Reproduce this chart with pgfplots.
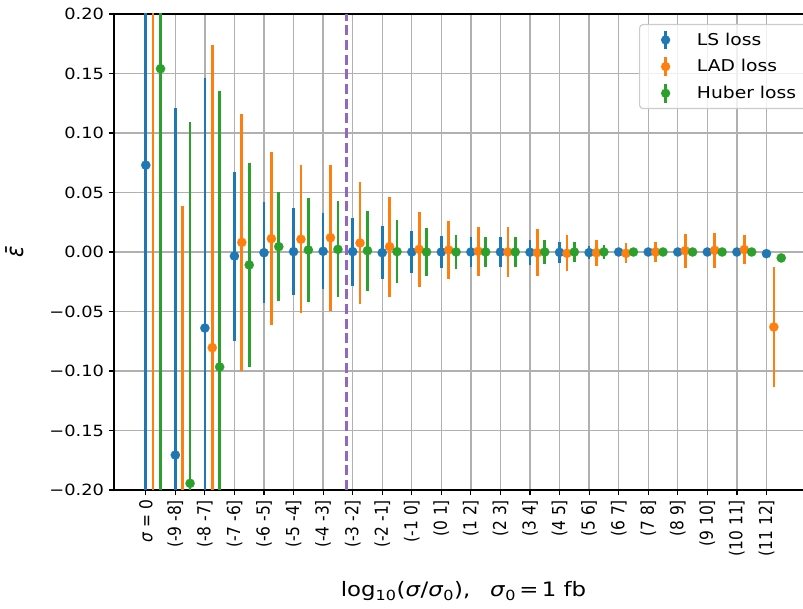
\documentclass[border=0pt]{standalone}
\usepackage{pgfplots}
\usepackage{pgfplotstable}
\pgfplotsset{compat=1.18}
\usepackage{fontspec}
\setmainfont{DejaVu Sans}
\newfontfamily\hf[FakeStretch=1.15]{DejaVu Sans}
\newfontfamily\vf[FakeStretch=0.87]{DejaVu Sans}
\definecolor{c1}{HTML}{1F77B4}
\definecolor{c2}{HTML}{FF7F0E}
\definecolor{c3}{HTML}{2CA02C}
\definecolor{c4}{HTML}{9467BD}
\definecolor{gridc}{HTML}{B0B0B0}
\definecolor{legc}{HTML}{CCCCCC}

% LS loss (x = category index)
\pgfplotstableread{
x y e
0 0.073 0.6
1 -0.1706 0.292
2 -0.0639 0.2104
3 -0.0034 0.071
4 -0.0006 0.0425
5 0.0003 0.0367
6 0.0006 0.032
7 0.0003 0.0285
8 -0.0006 0.0225
9 0.0 0.018
10 0.0 0.0137
11 0.0 0.0126
12 0.0 0.0125
13 -0.0002 0.0105
14 -0.0003 0.0087
15 -0.0005 0.0055
16 0.0 0.002
17 0.0 0.0015
18 0.0 0.0015
19 0.0 0.0012
20 0.0 0.001
21 -0.0014 0.001
}\lsdata

% LAD loss (x = index + 0.25)
\pgfplotstableread{
x y e
0.25 0.3 0.8
1.25 -0.4 0.439
2.25 -0.0804 0.254
3.25 0.0081 0.108
4.25 0.0112 0.0728
5.25 0.0107 0.0622
6.25 0.012 0.0612
7.25 0.0076 0.051
8.25 0.0045 0.042
9.25 0.0022 0.0314
10.25 0.0017 0.0243
11.25 0.0006 0.0205
12.25 0.0 0.021
13.25 -0.0006 0.0197
14.25 -0.0011 0.015
15.25 -0.0006 0.011
16.25 -0.0011 0.0083
17.25 0.0 0.008
18.25 0.0011 0.0143
19.25 0.0014 0.0145
20.25 0.002 0.0123
21.25 -0.063 0.0504
}\laddata

% Huber loss (x = index + 0.5)
\pgfplotstableread{
x y e
0.5 0.154 0.6
1.5 -0.1944 0.304
2.5 -0.0966 0.232
3.5 -0.0109 0.086
4.5 0.0045 0.0456
5.5 0.0017 0.044
6.5 0.0022 0.0403
7.5 0.0011 0.0336
8.5 0.0003 0.0266
9.5 0.0 0.0198
10.5 0.0 0.0145
11.5 0.0 0.0126
12.5 0.0 0.0126
13.5 0.0 0.0103
14.5 0.0 0.008
15.5 0.0 0.0056
16.5 0.0 0.002
17.5 0.0 0.0015
18.5 0.0 0.0015
19.5 0.0 0.0012
20.5 0.0 0.001
21.5 -0.005 0.001
}\huberdata

\begin{document}
\begin{tikzpicture}
\begin{axis}[
  scale only axis,
  width=524.25pt, height=357pt,
  xmin=-1.075, xmax=22.575,
  ymin=-0.2, ymax=0.2,
  xtick={0,1,2,3,4,5,6,7,8,9,10,11,12,13,14,15,16,17,18,19,20,21},
  xticklabels={{{\itshape σ} = 0},{(-9 -8]},{(-8 -7]},{(-7 -6]},{(-6 -5]},{(-5 -4]},{(-4 -3]},{(-3 -2]},{(-2 -1]},{(-1 0]},{(0 1]},{(1 2]},{(2 3]},{(3 4]},{(4 5]},{(5 6]},{(6 7]},{(7 8]},{(8 9]},{(9 10]},{(10 11]},{(11 12]}},
  ytick={-0.2,-0.15,-0.1,-0.05,0,0.05,0.1,0.15,0.2},
  yticklabels={−0.20,−0.15,−0.10,−0.05,0.00,0.05,0.10,0.15,0.20},
  xticklabel style={font=\vf\fontsize{13.35}{15}\selectfont, rotate=90, anchor=east},
  yticklabel style={font=\hf\fontsize{11.6}{13}\selectfont},
  grid=major,
  major grid style={gridc, line width=1pt},
  tick align=outside,
  tick pos=left,
  major tick length=4pt,
  every tick/.style={black, line width=0.9pt},
  axis line style={black, line width=0.9pt},
  clip marker paths=true,
  xlabel={log\textsubscript{10}(\textit{σ}/\textit{σ}\textsubscript{0}),\quad\textit{σ}\textsubscript{0}\,=\,1 fb},
  xlabel style={font=\hf\fontsize{14.9}{17}\selectfont, at={(axis description cs:0.5,-0.2248)}, anchor=base},
  ylabel={\itshape ε̄},
  ylabel style={font=\vf\fontsize{18}{20}\selectfont, at={(axis description cs:-0.1416,0.5)}, anchor=center},
  legend style={
    at={(rel axis cs:0.7511,0.979)}, anchor=north west,
    draw=legc, line width=0.9pt, rounded corners=2.5pt,
    fill=white, fill opacity=0.8, text opacity=1, draw opacity=1,
    inner xsep=0pt, inner ysep=1.5pt, row sep=0pt,
    font=\hf\fontsize{12.2}{14}\selectfont,
    nodes={inner xsep=0pt, inner ysep=0pt},
  },
  legend cell align=left,
]
\coordinate (ll) at (rel axis cs:0,0);
\addplot[only marks, mark=*, mark size=3.5pt, color=c1,
  mark options={fill=c1, draw=c1, line width=0.1pt},
  legend image code/.code={
    \path[draw=none, fill=none] (0pt,-10pt) rectangle (43pt,10pt);
    \draw[c1, line width=2pt, draw opacity=1] (19.5pt,-7pt) -- (19.5pt,7pt);
    \fill[c1, fill opacity=1, draw=none] (19.5pt,0pt) circle (3.5pt);},
  error bars/.cd, y dir=both, y explicit,
  error bar style={line width=2pt, c1}, error mark=none]
  table[x=x, y=y, y error=e] {\lsdata};
\addlegendentry{LS loss}
\addplot[only marks, mark=*, mark size=3.5pt, color=c2,
  mark options={fill=c2, draw=c2, line width=0.1pt},
  legend image code/.code={
    \path[draw=none, fill=none] (0pt,-10pt) rectangle (43pt,10pt);
    \draw[c2, line width=2pt, draw opacity=1] (19.5pt,-7pt) -- (19.5pt,7pt);
    \fill[c2, fill opacity=1, draw=none] (19.5pt,0pt) circle (3.5pt);},
  error bars/.cd, y dir=both, y explicit,
  error bar style={line width=2pt, c2}, error mark=none]
  table[x=x, y=y, y error=e] {\laddata};
\addlegendentry{LAD loss}
\addplot[only marks, mark=*, mark size=3.5pt, color=c3,
  mark options={fill=c3, draw=c3, line width=0.1pt},
  legend image code/.code={
    \path[draw=none, fill=none] (0pt,-10pt) rectangle (43pt,10pt);
    \draw[c3, line width=2pt, draw opacity=1] (19.5pt,-7pt) -- (19.5pt,7pt);
    \fill[c3, fill opacity=1, draw=none] (19.5pt,0pt) circle (3.5pt);},
  error bars/.cd, y dir=both, y explicit,
  error bar style={line width=2pt, c3}, error mark=none]
  table[x=x, y=y, y error=e] {\huberdata};
\addlegendentry{Huber loss\kern16pt\null}
\addplot[c4, line width=2pt, dash pattern=on 7.5pt off 3.5pt, forget plot]
  coordinates {(6.8,-0.2) (6.8,0.2)};
\end{axis}
\pgfresetboundingbox
\path[use as bounding box] (ll) ++(-85.5pt,-88.5pt) rectangle ++(602.25pt,456pt);
\end{tikzpicture}
\end{document}
